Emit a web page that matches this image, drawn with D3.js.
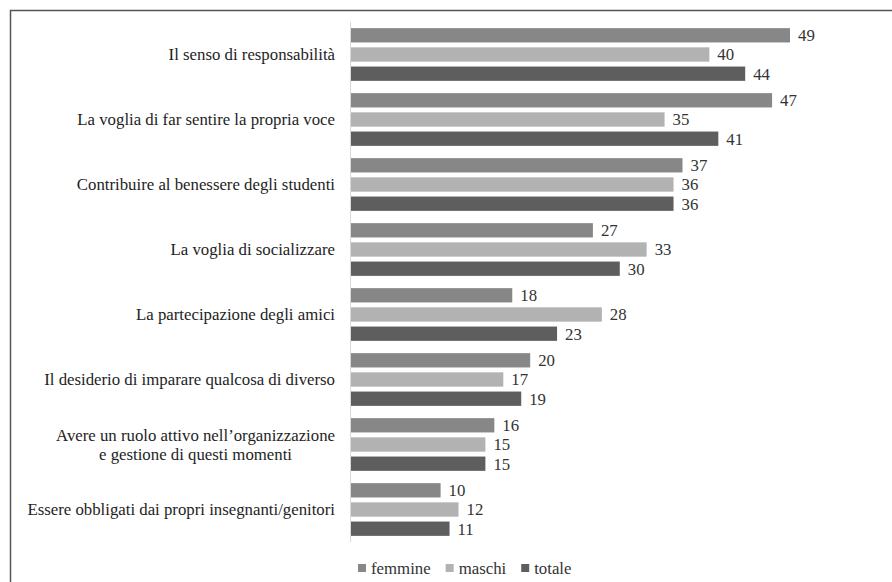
<!DOCTYPE html>
<html>
<head>
<meta charset="utf-8">
<script src="https://cdn.jsdelivr.net/npm/d3@7/dist/d3.min.js"></script>
<style>
  html, body { margin: 0; padding: 0; background: #fff; }
  svg { display: block; }
</style>
</head>
<body>
<svg id="chart" width="892" height="582"></svg>
<script>
// Motivazioni alla partecipazione (%), per genere
const categories = [
  ["Il senso di responsabilità"],
  ["La voglia di far sentire la propria voce"],
  ["Contribuire al benessere degli studenti"],
  ["La voglia di socializzare"],
  ["La partecipazione degli amici"],
  ["Il desiderio di imparare qualcosa di diverso"],
  ["Avere un ruolo attivo nell’organizzazione", "e gestione di questi momenti"],
  ["Essere obbligati dai propri insegnanti/genitori"]
];
const seriesNames = ["femmine", "maschi", "totale"];
const femmine = [49, 47, 37, 27, 18, 20, 16, 10];
const maschi  = [40, 35, 36, 33, 28, 17, 15, 12];
const totale  = [44, 41, 36, 30, 23, 19, 15, 11];
const seriesColors = ["#878787", "#b2b2b2", "#5e5e5e"];

const seriesValues = [femmine, maschi, totale];
const svg = d3.select("#chart");
const fontFamily = "'Liberation Serif', 'Times New Roman', serif";
const fontSize = 16.8;

// cornice (bordo superiore e sinistro)
svg.append("path")
  .attr("d", "M10.5,582 L10.5,10.5 L892,10.5")
  .attr("fill", "none").attr("stroke", "#555").attr("stroke-width", 1.5);

const x0 = 351, plotTop = 22, plotBottom = 542;
const x = d3.scaleLinear().domain([0, 49]).range([x0, 790]);
const y = d3.scaleBand().domain(d3.range(categories.length)).range([plotTop, plotBottom]).paddingInner(0).paddingOuter(0);
const inner = d3.scaleBand().domain(d3.range(3)).range([0, y.bandwidth()]).paddingInner(0.255).paddingOuter(0.32);

const groups = svg.append("g").selectAll("g")
  .data(categories.map((c, i) => i))
  .join("g")
  .attr("transform", i => `translate(0,${y(i)})`);

groups.each(function(i) {
  const g = d3.select(this);
  seriesValues.forEach((vals, s) => {
    g.append("rect")
      .attr("x", x(0))
      .attr("y", inner(s))
      .attr("width", x(vals[i]) - x(0))
      .attr("height", inner.bandwidth())
      .attr("fill", seriesColors[s]);
    g.append("text")
      .attr("x", x(vals[i]) + 8)
      .attr("y", inner(s) + inner.bandwidth() / 2)
      .attr("dy", "0.35em")
      .attr("font-family", fontFamily)
      .attr("font-size", fontSize)
      .attr("fill", "#333")
      .text(vals[i]);
  });
});

// asse verticale
svg.append("line")
  .attr("x1", x0 - 0.5).attr("x2", x0 - 0.5)
  .attr("y1", plotTop).attr("y2", plotBottom)
  .attr("stroke", "#d9d9d9").attr("stroke-width", 1);

// etichette delle categorie
const labelRight = 335, lineH = 19;
categories.forEach((lines, i) => {
  const cy = y(i) + y.bandwidth() / 2;
  const t = svg.append("text")
    .attr("font-family", fontFamily)
    .attr("font-size", fontSize).attr("fill", "#1e1e1e");
  const spans = lines.map((ln, k) => t.append("tspan")
    .attr("y", cy + (k - (lines.length - 1) / 2) * lineH)
    .attr("dy", "0.35em")
    .text(ln));
  const w = d3.max(spans, s => s.node().getComputedTextLength());
  t.attr("text-anchor", "middle");
  spans.forEach(s => s.attr("x", labelRight - w / 2));
});

// legenda
const legend = svg.append("g");
let lx = 358;
const ly = 568;
seriesNames.forEach((name, s) => {
  legend.append("rect")
    .attr("x", lx).attr("y", ly - 4).attr("width", 8).attr("height", 8)
    .attr("fill", seriesColors[s]);
  const t = legend.append("text")
    .attr("x", lx + 13).attr("y", ly).attr("dy", "0.35em")
    .attr("font-family", fontFamily)
    .attr("font-size", fontSize).attr("fill", "#333")
    .text(name);
  lx += 13 + t.node().getComputedTextLength() + 15;
});
</script>
</body>
</html>
